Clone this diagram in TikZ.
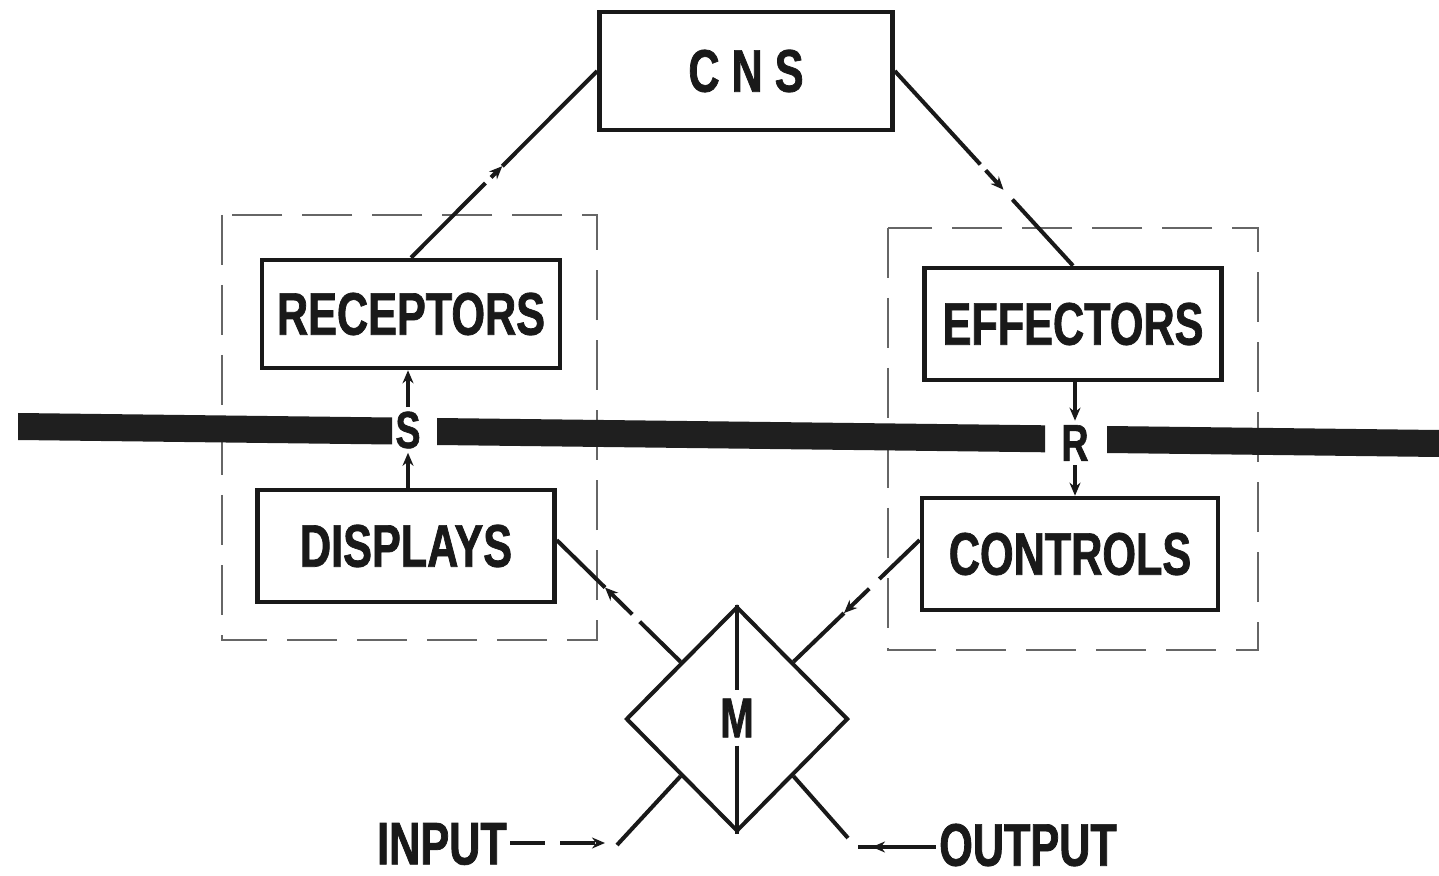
\documentclass[tikz,border=0pt]{standalone}
\usepackage{fontspec}
\newfontfamily\lblfont{Liberation Sans}[FakeStretch=0.72, FakeBold=1.2]
\usetikzlibrary{calc,arrows.meta,shapes.geometric}

% connector broken by a gap, with a small arrowhead part-way along
\newcommand\brkarrow[6]{%
  \draw[conn] (#1) -- ($(#1)!#3!(#2)$);
  \draw[conn,tip] ($(#1)!#4!(#2)$) -- ($(#1)!#5!(#2)$);
  \draw[conn] ($(#1)!#6!(#2)$) -- (#2);}

\begin{document}
\begin{tikzpicture}[x=0.5pt,y=-0.5pt,
  ink/.style={draw=black!90},
  box/.style={ink, line width=2.3pt, inner sep=0pt, text=black!90,
    font=\lblfont\bfseries\fontsize{30pt}{30pt}\selectfont},
  conn/.style={ink, line width=2pt},
  tip/.style={-{Stealth[length=6.5pt,width=5.5pt]}},
  letter/.style={inner sep=2pt, text=black!90,
    font=\lblfont\bfseries\fontsize{#1}{#1}\selectfont},
  letter/.default=30pt,
  zone/.style={draw=black!60, line width=1pt, dash pattern=on 25pt off 10pt},
  bar/.style={fill=black!88}]

\useasboundingbox[fill=white] (0,0) rectangle (1439,876);

% dashed groupings round the sensing and acting pairs
\draw[zone] (222,215) rectangle (597,640);
\draw[zone] (888,228) rectangle (1258,650);

% the heavy interface bar, broken at S and R
\fill[bar] (18,413) -- (392,417.5) -- (392,444.5) -- (18,440) -- cycle;
\fill[bar] (437,418) -- (1045,425.3) -- (1045,452.3) -- (437,445) -- cycle;
\fill[bar] (1107,426) -- (1439,430) -- (1439,457) -- (1107,453) -- cycle;

% blocks
\node[box, minimum width=146.5pt, minimum height=59pt] (cns) at (746,71)
  {C\hspace{6pt}N\hspace{6pt}S};
\node[box, minimum width=149pt, minimum height=54pt] (rec) at (411,314) {RECEPTORS};
\node[box, minimum width=148.5pt, minimum height=56pt] (dis) at (406,546) {DISPLAYS};
\node[box, minimum width=148.5pt, minimum height=56pt] (eff) at (1073,324) {EFFECTORS};
\node[box, minimum width=148pt, minimum height=56pt] (con) at (1070,554) {CONTROLS};

\node[letter=26pt] (s) at (408,430) {S};
\node[letter=26pt] (r) at (1075,443) {R};

% machine diamond
\node[shape=diamond, ink, line width=2pt, minimum width=111pt,
  minimum height=112.5pt, inner sep=0pt] (M) at (737,719) {};
\node[letter=28pt, inner sep=4pt] (mlbl) at (737,718) {M};
\draw[conn] (M.north) -- (mlbl.north);
\draw[conn] (mlbl.south) -- (M.south);

\coordinate (mUL) at ($(M.north)!0.5!(M.west)$);
\coordinate (mUR) at ($(M.north)!0.5!(M.east)$);
\coordinate (mLL) at ($(M.south)!0.5!(M.west)$);
\coordinate (mLR) at ($(M.south)!0.5!(M.east)$);
\coordinate (disOut) at ($(dis.north east)!0.45!(dis.south east)$);
\coordinate (conOut) at ($(con.north west)!0.38!(con.south west)$);

% receptors up to CNS, CNS down to effectors
\brkarrow{rec.north}{cns.west}{0.40}{0.43}{0.49}{0.49}
\brkarrow{cns.east}{eff.north}{0.48}{0.51}{0.61}{0.66}

% displays to receptors through S, effectors to controls through R
\draw[conn,tip] (s |- dis.north) -- (s.south);
\draw[conn,tip] (s.north) -- (s |- rec.south);
\draw[conn,tip] (r |- eff.south) -- (r.north);
\draw[conn,tip] (r.south) -- (r |- con.north);

% machine to displays, controls to machine
\brkarrow{mUL}{disOut}{0.33}{0.39}{0.61}{0.61}
\brkarrow{conOut}{mUR}{0.32}{0.40}{0.60}{0.60}

% input and output
\node[letter, inner sep=1.5pt] (inp) at (442,844) {INPUT};
\node[letter, inner sep=1.5pt] (outp) at (1028,845) {OUTPUT};
\coordinate (inEnd) at (617,845);
\coordinate (inTip) at (605,843);
\coordinate (outEnd) at (848,838);
\coordinate (outTip) at (872,847);
\coordinate (outStart) at (858,847);

\draw[conn] (mLL) -- (inEnd);
\draw[conn, tip, dash pattern=on 17.5pt off 7.5pt] (inp.east |- inTip) -- (inTip);
\draw[conn] (mLR) -- (outEnd);
\draw[conn] (outp.west |- outTip) -- (outStart);
\draw[conn, tip] (outp.west |- outTip) -- (outTip);
\end{tikzpicture}
\end{document}
